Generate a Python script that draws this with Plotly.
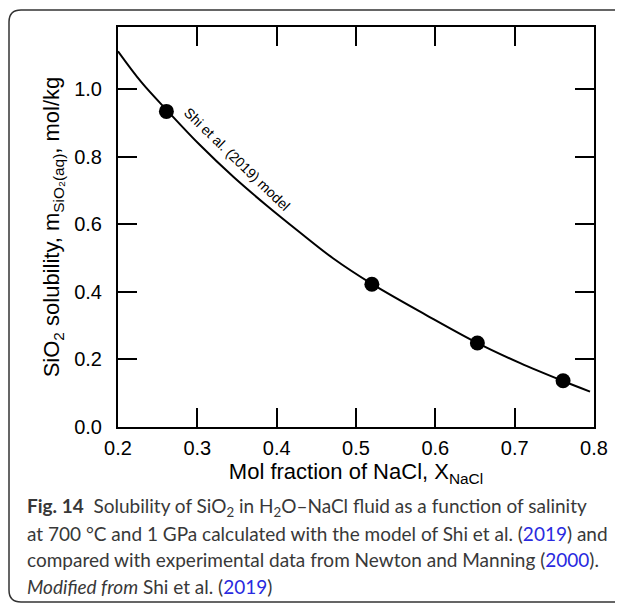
import plotly.graph_objects as go

# Model curve (Shi et al. 2019)
model_x = [0.200, 0.230, 0.263, 0.303, 0.345, 0.387, 0.429, 0.471, 0.520, 0.589, 0.652, 0.707, 0.760, 0.795]
model_y = [1.113, 1.020, 0.935, 0.836, 0.742, 0.657, 0.577, 0.500, 0.424, 0.331, 0.250, 0.189, 0.137, 0.105]

# Experimental data (Newton and Manning 2000)
exp_x = [0.261, 0.520, 0.653, 0.761]
exp_y = [0.935, 0.423, 0.249, 0.137]

x_ticks = [0.2, 0.3, 0.4, 0.5, 0.6, 0.7, 0.8]
y_ticks = [0.0, 0.2, 0.4, 0.6, 0.8, 1.0]

caption_lines = [
    "<b>Fig. 14</b>  Solubility of SiO<sub>2</sub> in H<sub>2</sub>O–NaCl fluid as a function of salinity",
    "at 700 °C and 1 GPa calculated with the model of Shi et al. (<span style='color:#2a2ae0'>2019</span>) and",
    "compared with experimental data from Newton and Manning (<span style='color:#2a2ae0'>2000</span>).",
    "<i>Modified from</i> Shi et al. (<span style='color:#2a2ae0'>2019</span>)",
]
caption_y_px = [507, 533, 559, 586]

OFF = 8  # html body margin
W, H = 623 - OFF, 605 - OFF
L, R, T, B = 118 - OFF, 594 - OFF, 27 - OFF, 427 - OFF

def px_x(px):
    return (px - OFF - L) / (R - L)

def px_y(py):
    return (B - (py - OFF)) / (B - T)

fig = go.Figure()
fig.add_trace(go.Scatter(x=model_x, y=model_y, mode="lines",
                         line=dict(color="black", width=2, shape="spline"),
                         showlegend=False, hoverinfo="skip"))
fig.add_trace(go.Scatter(x=exp_x, y=exp_y, mode="markers",
                         marker=dict(color="black", size=15),
                         showlegend=False))

fig.add_annotation(x=0.350, y=0.795, xref="x", yref="y", text="Shi et al. (2019) model",
                   textangle=44, showarrow=False,
                   font=dict(family="Liberation Sans, Arial", size=14, color="black"))

# caption
cap_font = dict(family="Lato, Noto Sans", size=19, color="#383838")
for line, ypx in zip(caption_lines, caption_y_px):
    fig.add_annotation(x=px_x(25), y=px_y(ypx), xref="paper", yref="paper",
                       xanchor="left", yanchor="middle", text=line,
                       showarrow=False, font=cap_font, align="left")

# rounded border frame
x0, x1 = px_x(9), px_x(660)
y0, y1 = px_y(602), px_y(10)
rx, ry = 12 / (R - L), 12 / (B - T)
path = (f"M {x0+rx},{y1} L {x1},{y1} L {x1},{y0} L {x0+rx},{y0} "
        f"Q {x0},{y0} {x0},{y0+ry} L {x0},{y1-ry} Q {x0},{y1} {x0+rx},{y1} Z")
fig.add_shape(type="path", path=path, xref="paper", yref="paper",
              line=dict(color="#333333", width=1.5), fillcolor="rgba(0,0,0,0)")

axis_font = dict(family="Liberation Sans, Arial", size=20, color="black")
title_font = dict(family="Liberation Sans, Arial", size=22, color="black")

fig.update_xaxes(range=[0.2, 0.8], tickvals=x_ticks, ticktext=[f"{v:.1f}" for v in x_ticks],
                 showline=True, linecolor="black", linewidth=2, mirror="ticks",
                 ticks="inside", ticklen=19, tickwidth=2, tickcolor="black",
                 showgrid=False, zeroline=False, tickfont=axis_font, ticklabelstandoff=2,
                 title=dict(text="Mol fraction of NaCl, X<sub>NaCl</sub>", font=title_font, standoff=4))
fig.update_yaxes(range=[0, 1.185], tickvals=y_ticks, ticktext=[f"{v:.1f}" for v in y_ticks],
                 showline=True, linecolor="black", linewidth=2, mirror="ticks",
                 ticks="inside", ticklen=19, tickwidth=2, tickcolor="black",
                 showgrid=False, zeroline=False, tickfont=axis_font, ticklabelstandoff=10,
                 title=dict(text="SiO<sub>2</sub> solubility, m<sub>SiO₂(aq)</sub>, mol/kg",
                            font=title_font, standoff=8))

fig.update_layout(width=W, height=H, margin=dict(l=L, r=W - R, t=T, b=H - B, autoexpand=False),
                  plot_bgcolor="white", paper_bgcolor="white")

fig.write_html("out.html")
